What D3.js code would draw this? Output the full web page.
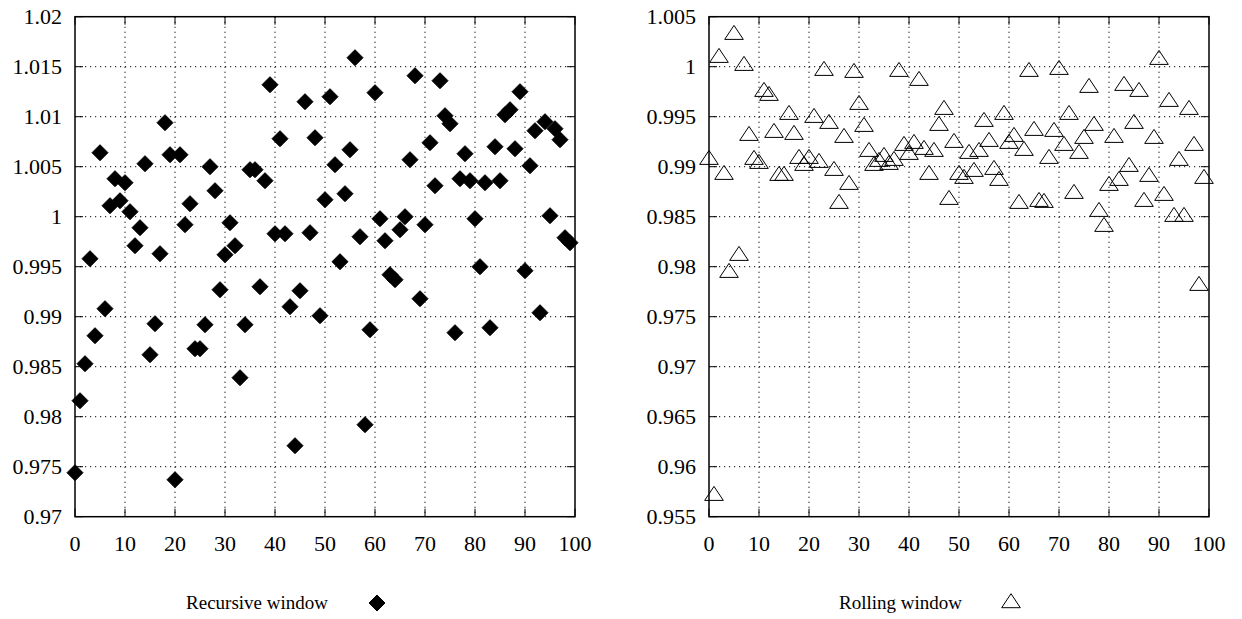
<!DOCTYPE html>
<html lang="en">
<head>
    <meta charset="UTF-8">
    <title>Recursive vs rolling window</title>
    <script src="https://d3js.org/d3.v7.min.js"></script>
    <style>
        body { margin: 0; background: #fff; }
        svg text { font-family: "Liberation Serif", "DejaVu Serif", "Noto Serif", serif; }
    </style>
</head>
<body>
<div id="chart"></div>
<script>
// data, x = 0..99
var recursiveWindow = [
    0.9744, 0.9816, 0.9853, 0.9958, 0.9881, 1.0064, 0.9908, 1.0011, 1.0038, 1.0016,
    1.0034, 1.0005, 0.9971, 0.9989, 1.0053, 0.9862, 0.9893, 0.9963, 1.0094, 1.0062,
    0.9737, 1.0062, 0.9992, 1.0013, 0.9868, 0.9868, 0.9892, 1.0050, 1.0026, 0.9927,
    0.9962, 0.9994, 0.9971, 0.9839, 0.9892, 1.0047, 1.0047, 0.9930, 1.0036, 1.0132,
    0.9983, 1.0078, 0.9983, 0.9910, 0.9771, 0.9926, 1.0115, 0.9984, 1.0079, 0.9901,
    1.0017, 1.0120, 1.0052, 0.9955, 1.0023, 1.0067, 1.0159, 0.9980, 0.9792, 0.9887,
    1.0124, 0.9998, 0.9976, 0.9942, 0.9937, 0.9987, 1.0000, 1.0057, 1.0141, 0.9918,
    0.9992, 1.0074, 1.0031, 1.0136, 1.0101, 1.0093, 0.9884, 1.0038, 1.0063, 1.0036,
    0.9998, 0.9950, 1.0034, 0.9889, 1.0070, 1.0036, 1.0102, 1.0107, 1.0068, 1.0125,
    0.9946, 1.0051, 1.0086, 0.9904, 1.0095, 1.0001, 1.0088, 1.0077, 0.9979, 0.9974
];
var rollingWindow = [
    0.9907, 0.9571, 1.0009, 0.9892, 0.9794, 1.0032, 0.9811, 1.0001, 0.9931, 0.9907,
    0.9903, 0.9975, 0.9971, 0.9934, 0.9891, 0.9891, 0.9952, 0.9932, 0.9908, 0.9901,
    0.9908, 0.9949, 0.9904, 0.9996, 0.9943, 0.9896, 0.9863, 0.9929, 0.9882, 0.9994,
    0.9962, 0.9940, 0.9915, 0.9901, 0.9905, 0.9910, 0.9902, 0.9906, 0.9995, 0.9921,
    0.9912, 0.9923, 0.9986, 0.9917, 0.9892, 0.9915, 0.9941, 0.9957, 0.9867, 0.9924,
    0.9892, 0.9888, 0.9913, 0.9895, 0.9915, 0.9945, 0.9925, 0.9897, 0.9886, 0.9952,
    0.9923, 0.9930, 0.9863, 0.9916, 0.9995, 0.9936, 0.9865, 0.9864, 0.9908, 0.9935,
    0.9997, 0.9921, 0.9952, 0.9873, 0.9913, 0.9928, 0.9979, 0.9941, 0.9855, 0.9840,
    0.9881, 0.9929, 0.9886, 0.9981, 0.9900, 0.9943, 0.9975, 0.9865, 0.9890, 0.9928,
    1.0007, 0.9871, 0.9965, 0.9850, 0.9906, 0.9850, 0.9957, 0.9921, 0.9781, 0.9888
];

var xTicks = [0, 10, 20, 30, 40, 50, 60, 70, 80, 90, 100];
var xTickLabels = ["0", "10", "20", "30", "40", "50", "60", "70", "80", "90", "100"];
var leftYTicks = [0.97, 0.975, 0.98, 0.985, 0.99, 0.995, 1, 1.005, 1.01, 1.015, 1.02];
var leftYTickLabels = ["0.97", "0.975", "0.98", "0.985", "0.99", "0.995", "1", "1.005", "1.01", "1.015", "1.02"];
var rightYTicks = [0.955, 0.96, 0.965, 0.97, 0.975, 0.98, 0.985, 0.99, 0.995, 1, 1.005];
var rightYTickLabels = ["0.955", "0.96", "0.965", "0.97", "0.975", "0.98", "0.985", "0.99", "0.995", "1", "1.005"];

var width = 1242, height = 619;

var svg = d3.select("#chart")
    .append("svg")
    .attr("width", width)
    .attr("height", height);

// one panel = frame, grid, ticks, labels, points, key
function drawPanel(opt) {
    var x = d3.scaleLinear().domain([0, 100]).range([opt.left, opt.left + 500]);
    var y = d3.scaleLinear().domain(opt.yDomain).range([516.7, 16.7]);
    var g = svg.append("g");
    var x0 = x.range()[0], x1 = x.range()[1], y0 = y.range()[1], y1 = y.range()[0];

    // dotted grid
    g.selectAll(".gx").data(xTicks.slice(1, -1)).enter().append("line")
        .attr("x1", function(d) { return x(d); }).attr("x2", function(d) { return x(d); })
        .attr("y1", y0).attr("y2", y1)
        .attr("stroke", "#000").attr("stroke-width", 1).attr("stroke-dasharray", "1.2,3.8");
    g.selectAll(".gy").data(opt.yTicks.slice(1, -1)).enter().append("line")
        .attr("x1", x0).attr("x2", x1)
        .attr("y1", function(d) { return y(d); }).attr("y2", function(d) { return y(d); })
        .attr("stroke", "#000").attr("stroke-width", 1).attr("stroke-dasharray", "1.2,3.8");

    // inward ticks on all four sides
    var tl = 8;
    xTicks.forEach(function(d) {
        g.append("line").attr("x1", x(d)).attr("x2", x(d)).attr("y1", y1).attr("y2", y1 - tl)
            .attr("stroke", "#000").attr("stroke-width", 1);
        g.append("line").attr("x1", x(d)).attr("x2", x(d)).attr("y1", y0).attr("y2", y0 + tl)
            .attr("stroke", "#000").attr("stroke-width", 1);
    });
    opt.yTicks.forEach(function(d) {
        g.append("line").attr("x1", x0).attr("x2", x0 + tl).attr("y1", y(d)).attr("y2", y(d))
            .attr("stroke", "#000").attr("stroke-width", 1);
        g.append("line").attr("x1", x1).attr("x2", x1 - tl).attr("y1", y(d)).attr("y2", y(d))
            .attr("stroke", "#000").attr("stroke-width", 1);
    });

    // frame
    g.append("rect").attr("x", x0).attr("y", y0).attr("width", x1 - x0).attr("height", y1 - y0)
        .attr("fill", "none").attr("stroke", "#000").attr("stroke-width", 1.5);

    // tick labels
    g.selectAll(".xl").data(xTicks).enter().append("text")
        .attr("x", function(d) { return x(d); })
        .attr("y", 551)
        .attr("text-anchor", "middle")
        .attr("font-size", "22px")
        .text(function(d, i) { return xTickLabels[i]; });
    g.selectAll(".yl").data(opt.yTicks).enter().append("text")
        .attr("x", x0 - 13)
        .attr("y", function(d) { return y(d); })
        .attr("dy", "0.33em")
        .attr("text-anchor", "end")
        .attr("font-size", "22px")
        .text(function(d, i) { return opt.yTickLabels[i]; });

    // points
    g.selectAll(".pt").data(opt.values).enter().append("path")
        .attr("d", opt.symbol)
        .attr("transform", function(d, i) { return "translate(" + x(i) + "," + y(d) + ")"; })
        .attr("fill", opt.fill).attr("stroke", "#000").attr("stroke-width", 1);

    // key below the panel
    g.append("text")
        .attr("x", opt.keyX).attr("y", 603).attr("dy", "0.33em")
        .attr("text-anchor", "end")
        .attr("font-size", "19px")
        .text(opt.name);
    g.append("path").attr("d", opt.symbol)
        .attr("transform", "translate(" + (opt.keyX + 49) + ",603)")
        .attr("fill", opt.fill).attr("stroke", "#000").attr("stroke-width", 1);
}

var diamond = "M0,-8L8,0L0,8L-8,0Z";
var triangle = "M0,-9.3L9.3,4.7L-9.3,4.7Z";

drawPanel({ left: 75, yDomain: [0.97, 1.02], yTicks: leftYTicks, yTickLabels: leftYTickLabels,
    values: recursiveWindow, symbol: diamond, fill: "#000", name: "Recursive window", keyX: 328 });
drawPanel({ left: 709, yDomain: [0.955, 1.005], yTicks: rightYTicks, yTickLabels: rightYTickLabels,
    values: rollingWindow, symbol: triangle, fill: "none", name: "Rolling window", keyX: 962 });
</script>
</body>
</html>
